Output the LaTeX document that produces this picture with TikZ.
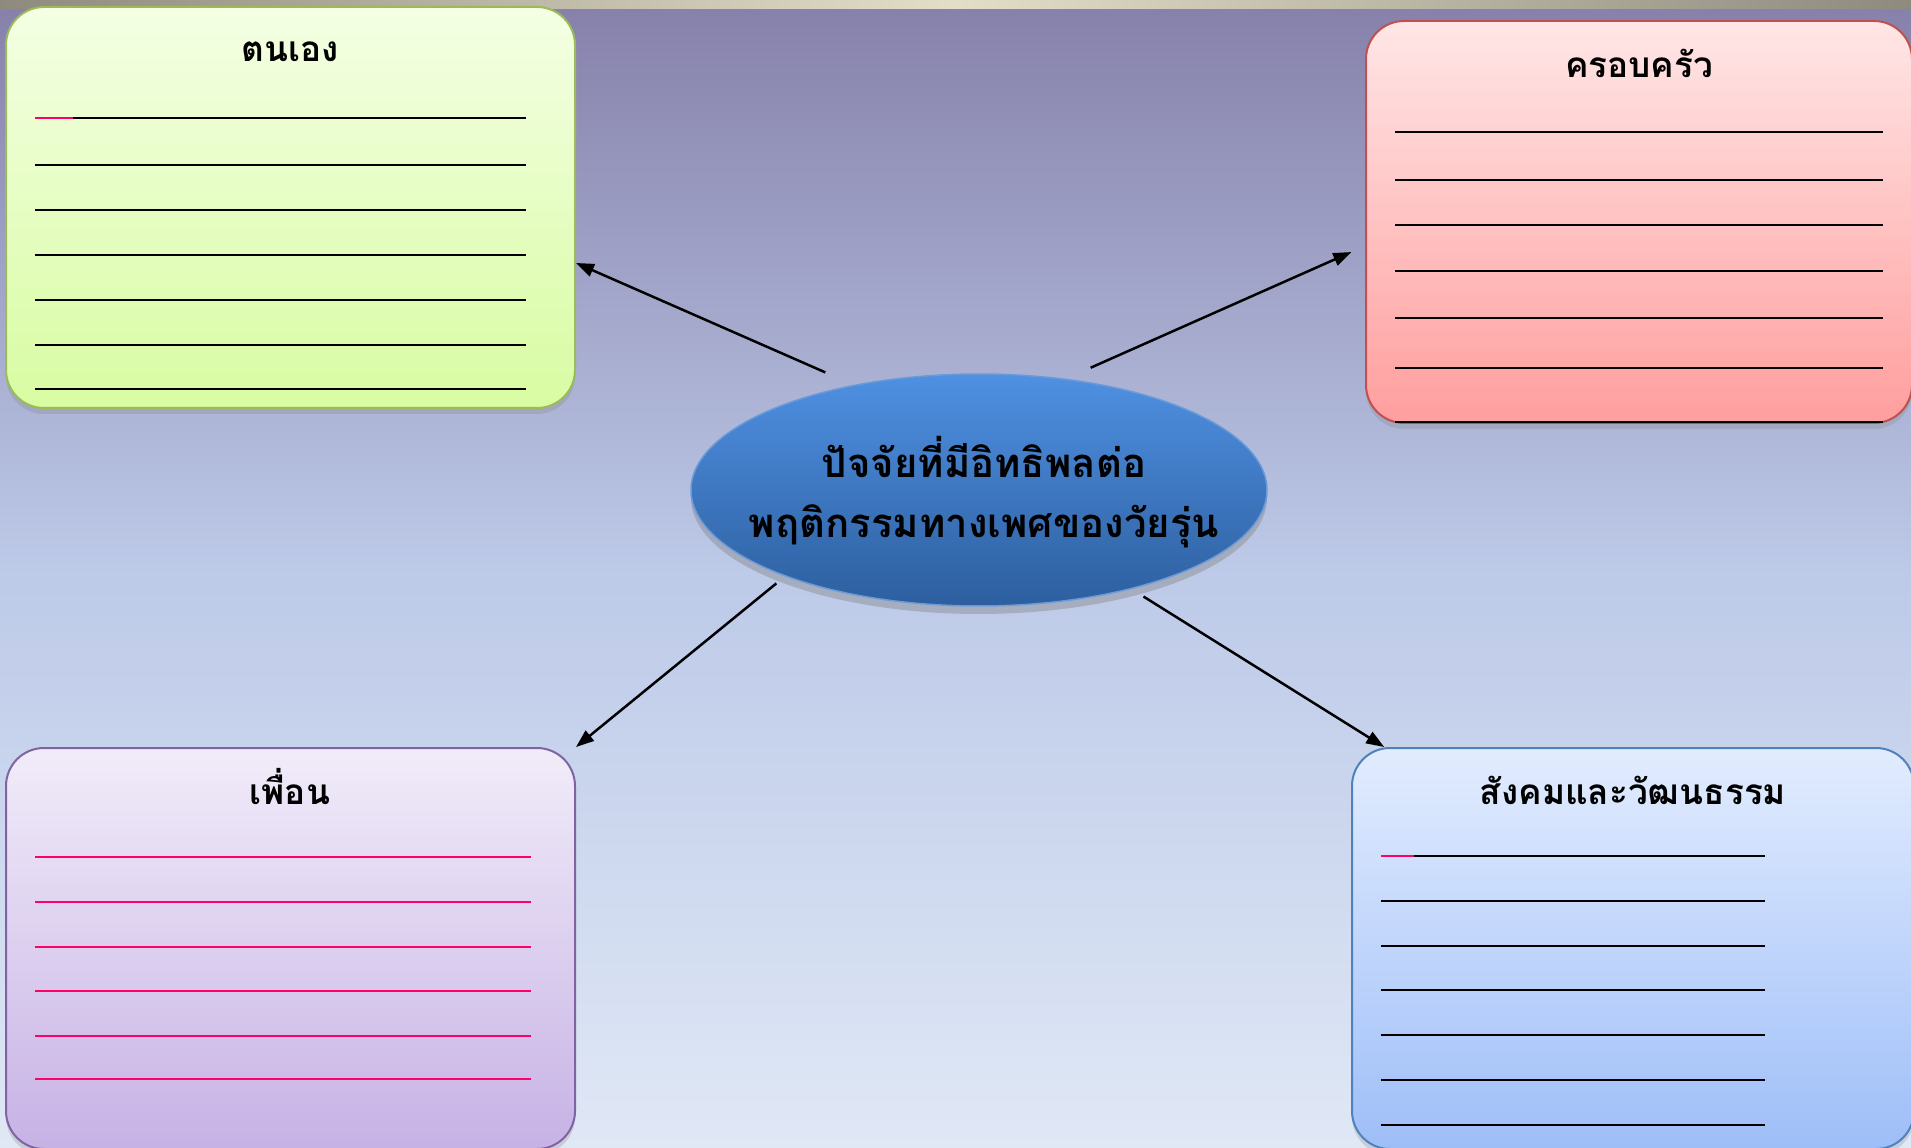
\documentclass[tikz,border=0pt]{standalone}
\usepackage{fontspec}
\newfontfamily\thaifont[Script=Thai]{Loma}
\usetikzlibrary{arrows.meta,shapes.geometric,shadows}

\definecolor{bgtop}{HTML}{8680AA}
\definecolor{bgmid}{HTML}{BDCAE8}
\definecolor{bgbot}{HTML}{E0E8F6}
\definecolor{stripside}{HTML}{8E8B7E}
\definecolor{stripmid}{HTML}{E2DEC8}
\definecolor{selftop}{HTML}{F4FFE4}
\definecolor{selfbot}{HTML}{D8FCA2}
\definecolor{selfline}{HTML}{9BBB59}
\definecolor{famtop}{HTML}{FFE6E6}
\definecolor{fambot}{HTML}{FF9E9E}
\definecolor{famline}{HTML}{C0504D}
\definecolor{fritop}{HTML}{F1ECF9}
\definecolor{fribot}{HTML}{C7B2E5}
\definecolor{friline}{HTML}{8064A2}
\definecolor{soctop}{HTML}{E2ECFE}
\definecolor{socbot}{HTML}{9EBEF8}
\definecolor{socline}{HTML}{4F81BD}
\definecolor{coretop}{HTML}{4F90E2}
\definecolor{corebot}{HTML}{2D5F9F}
\definecolor{coreline}{HTML}{6A9BD8}
\definecolor{pinkline}{HTML}{FF0066}

\tikzset{
  card/.style={draw, line width=0.2mm, rounded corners=3.8mm, inner sep=0pt,
    drop shadow={opacity=0.25, shadow xshift=0mm, shadow yshift=-0.6mm}},
  title/.style={font=\thaifont\bfseries\fontsize{10}{12}\selectfont},
  rule/.style={line width=0.25mm, black},
  link/.style={line width=0.25mm, -{Triangle[length=1.8mm, width=1.3mm]}},
  core/.style={ellipse, draw=coreline, line width=0.15mm, inner sep=0pt,
    minimum width=57.6mm, minimum height=23.2mm, top color=coretop, bottom color=corebot,
    drop shadow={opacity=0.4, shadow xshift=0mm, shadow yshift=-0.8mm}},
  coretext/.style={align=center, font=\thaifont\bfseries\fontsize{11.4}{17}\selectfont}
}

\begin{document}
\begin{tikzpicture}[x=0.1mm, y=-0.1mm]
      \useasboundingbox (0,0) rectangle (1911,1148);
      % background
      \fill[top color=bgtop, bottom color=bgbot, middle color=bgmid] (0,0) rectangle (1911,1148);
      \fill[left color=stripside, right color=stripside, middle color=stripmid] (0,0) rectangle (1911,9);

      % ตนเอง
      \node[card, draw=selfline, top color=selftop, bottom color=selfbot,
            minimum width=56.9mm, minimum height=40.1mm] (self) at (290.5,207.5) {};
      \node[title]      (selfT) at (290,52) {ตนเอง};
      \foreach \y in {118,165,210,255,300,345,389}
        \draw[rule] (35,\y) -- (526,\y);
      \draw[rule, pinkline] (35,118) -- (73,118);

      % ครอบครัว
      \node[card, draw=famline, top color=famtop, bottom color=fambot,
            minimum width=54.6mm, minimum height=40.2mm] (family) at (1639,222) {};
      \node[title]      (familyT) at (1639,63) {ครอบครัว};
      \foreach \y in {132,180,225,271,318,368,422}
        \draw[rule] (1395,\y) -- (1883,\y);

      % เพื่อน
      \node[card, draw=friline, top color=fritop, bottom color=fribot,
            minimum width=56.9mm, minimum height=40.1mm] (friends) at (290.5,948.5) {};
      \node[title]      (friendsT) at (290,787) {เพื่อน};
      \foreach \y in {857,902,947,991,1036,1079}
        \draw[rule, pinkline] (35,\y) -- (531,\y);

      % สังคมและวัฒนธรรม
      \node[card, draw=socline, top color=soctop, bottom color=socbot,
            minimum width=56.2mm, minimum height=40.1mm] (society) at (1633,948.5) {};
      \node[title]      (societyT) at (1633,790) {สังคมและวัฒนธรรม};
      \foreach \y in {856,901,946,990,1035,1080,1125}
        \draw[rule] (1381,\y) -- (1765,\y);
      \draw[rule, pinkline] (1381,856) -- (1414,856);

      % centre
      \node[core]       (core) at (979,490) {};
      \node[coretext]   (coreT) at (984,492) {ปัจจัยที่มีอิทธิพลต่อ\\พฤติกรรมทางเพศของวัยรุ่น};

      % arrows
      \draw[link, shorten <=3.1mm] (core.140) -- (self.-11);
      \draw[link, shorten <=2.7mm, shorten >=1.5mm] (core.52) -- (family.185);
      \draw[link, shorten <=1.1mm] (core.204) -- (friends.north east);
      \draw[link, shorten <=1.4mm] (core.-33) -- (society.141.5);
    \end{tikzpicture}
\end{document}
